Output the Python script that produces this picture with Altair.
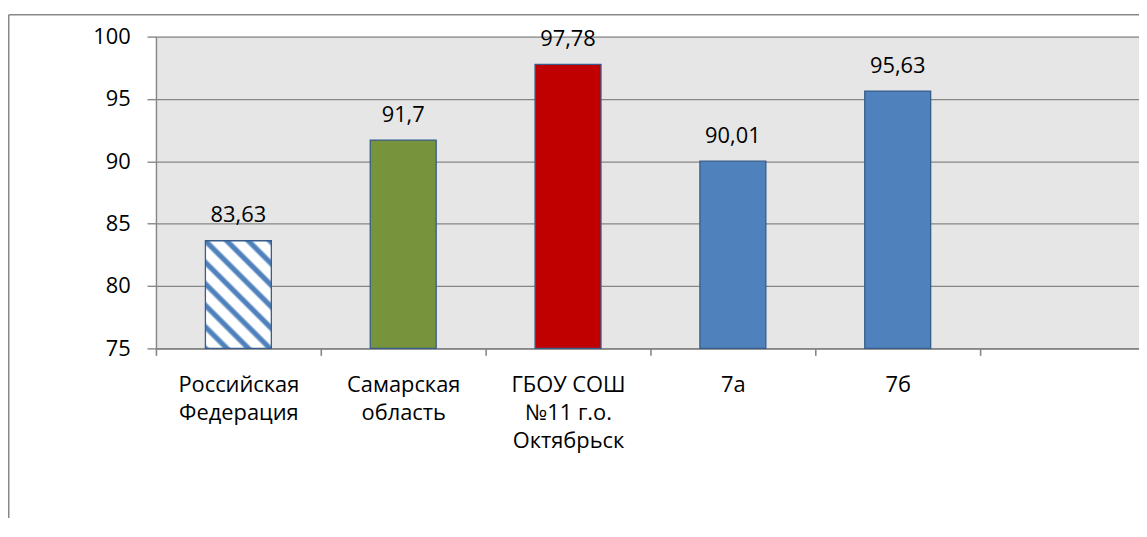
import altair as alt
import pandas as pd

# ---- data ----
categories = ["Российская\nФедерация", "Самарская\nобласть", "ГБОУ СОШ\n№11 г.о.\nОктябрьск", "7а", "7б"]
values = [83.63, 91.7, 97.78, 90.01, 95.63]
y_ticks = [75, 80, 85, 90, 95, 100]
empty_slot = " "

# ---- styles ----
FONT = "Open Sans"
GRAY = "#868686"
BORDER = "#385d8a"
BLUE = "#4f81bd"
bar_colors = ["#77933c", "#c00000", BLUE, BLUE]

df = pd.DataFrame({"category": categories, "value": values})
domain = categories + [empty_slot]


# diagonal hatch made with a striped linear gradient (style only)
def _mix(t):
    w = (255, 255, 255)
    b = (0x4f, 0x81, 0xbd)
    c = [round(w[i] + (b[i] - w[i]) * t) for i in range(3)]
    return "#%02x%02x%02x" % tuple(c)


W_PX, H_PX = 66.4, 108.4
s = (W_PX + H_PX) / (W_PX ** 2 + H_PX ** 2)
gx, gy = s * W_PX, -s * H_PX
period = 1 / 8.07
hb, e = 0.17, 0.07
stops = []
N = 320
for i in range(N + 1):
    o = i / N
    d = (o / period) % 1.0
    d = min(d, 1 - d)
    if d <= hb - e:
        t = 1.0
    elif d >= hb + e:
        t = 0.0
    else:
        t = (hb + e - d) / (2 * e)
    stops.append({"offset": o, "color": _mix(t)})

hatch = {"gradient": "linear", "x1": 0, "y1": 1, "x2": gx, "y2": 1 + gy, "stops": stops}

x_enc = alt.X(
    "category:N",
    sort=None,
    scale=alt.Scale(domain=domain, range=[0, 996], paddingInner=0, paddingOuter=0),
    axis=alt.Axis(
        title=None,
        labelAngle=0,
        labelExpr="split(datum.label, '\\n')",
        labelFont=FONT,
        labelFontSize=22,
        labelColor="black",
        labelLineHeight=28.5,
        labelPadding=19,
        tickBand="extent",
        tickSize=7,
        tickColor=GRAY,
        tickWidth=1.6,
        domainColor=GRAY,
        domainWidth=1.6,
        grid=False,
    ),
)
y_enc = alt.Y(
    "value:Q",
    scale=alt.Scale(domain=[y_ticks[0], y_ticks[-1]], nice=False, zero=False),
    axis=alt.Axis(
        title=None,
        values=y_ticks,
        labelFont=FONT,
        labelFontSize=22,
        labelColor="black",
        labelPadding=17,
        tickSize=9,
        tickColor=GRAY,
        tickWidth=1.4,
        domainColor=GRAY,
        domainWidth=1.4,
        grid=True,
        gridColor=GRAY,
        gridWidth=1.3,
    ),
)

base = alt.Chart(df)
bar_w = alt.RelativeBandSize(0.4)

hatched = base.transform_filter(alt.datum.category == categories[0]).mark_bar(
    fill=hatch, stroke=BORDER, strokeWidth=1.3, width=bar_w
).encode(x=x_enc, y=y_enc, y2=alt.datum(y_ticks[0]))

solid = base.transform_filter(alt.datum.category != categories[0]).mark_bar(
    stroke=BORDER, strokeWidth=1.3, width=bar_w
).encode(
    x=x_enc,
    y=y_enc,
    y2=alt.datum(y_ticks[0]),
    color=alt.Color("category:N", scale=alt.Scale(domain=categories[1:], range=bar_colors), legend=None),
)

labels = base.transform_calculate(
    label="replace(toString(datum.value), '.', ',')"
).mark_text(font=FONT, fontSize=22, baseline="alphabetic", dy=-18.5, color="black").encode(
    x=x_enc, y=y_enc, text="label:N"
)

one = alt.Data(values=[{}])
frame_top = alt.Chart(one).mark_rule(color="#888888", strokeWidth=1.5).encode(
    x=alt.value(-148.25), x2=alt.value(1200), y=alt.value(-22), y2=alt.value(-22)
)
frame_left = alt.Chart(one).mark_rule(color="#888888", strokeWidth=1.5).encode(
    x=alt.value(-148.25), x2=alt.value(-148.25), y=alt.value(-22), y2=alt.value(700)
)

chart = alt.layer(solid, hatched, labels, frame_top, frame_left).properties(
    width=990,
    height=314,
    autosize=alt.AutoSizeParams(type="none"),
    padding={"left": 149, "top": 27, "right": 0, "bottom": 169},
).configure_view(fill="#e6e6e6", stroke=None)

chart.save("out.html", embed_options={"renderer": "svg", "actions": False})
